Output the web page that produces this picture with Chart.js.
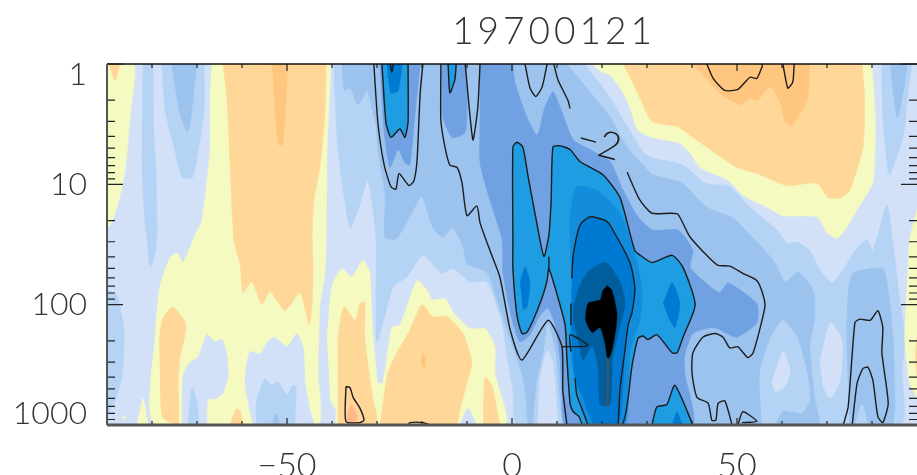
<!DOCTYPE html>
<html><head><meta charset="utf-8">
<style>html,body{margin:0;padding:0;background:#fff}canvas{display:block}</style>
<script src="https://cdn.jsdelivr.net/npm/chart.js@4/dist/chart.umd.min.js"></script>
</head><body><canvas id="c" width="917" height="475"></canvas>
<script>
// All outlines: [latitude, log10(pressure)]
const baseField=[[-90,0],[90,0],[90,3],[-90,3]];
const yellowLeft=[[-90,0],[-84,0],[-84.7,.38],[-86,.88],[-87.6,1.17],[-89.3,1.34],[-90,1.35]];
const yellowMain=[[-66.7,0],[-67.1,.3],[-67.1,.71],[-68.9,1.3],[-70.4,1.42],[-73.1,1.65],[-74.4,1.57],[-76,1.61],[-78.2,1.84],[-79.3,2.25],[-79.3,3],[-43.3,3],[-43.1,2.57],[-42.7,2.02],[-41.6,1.74],[-41.3,1.46],[-41.1,.71],[-40.2,0]];
const yellowPeak=[[-83.3,3],[-82,2.78],[-80.9,3]];
const yellowSpot=[[-86.7,2.93],[-86,2.93],[-86.2,2.96]];
const orangeMain=[[-64.2,0],[-63.3,.3],[-62.7,.8],[-61.8,1.46],[-60.4,1.67],[-59.8,1.9],[-57.8,1.81],[-55.6,2],[-53.8,1.89],[-50.4,2.05],[-47.1,1.9],[-45.1,2.17],[-44.4,1.98],[-44.2,1.7],[-44.4,1.42],[-44,1.13],[-42.7,.86],[-41.6,.44],[-41.3,0]];
const orangeDarkLeft=[[-53.3,0],[-52,.67],[-50.9,.67],[-49.8,0]];
const orangeCorner=[[-89.6,0],[-88.2,.14],[-87.1,0]];
const orangeLobeLeft=[[-78.4,2.31],[-77.6,2.11],[-75.3,2.02],[-72.4,2.17],[-73.8,2.44],[-74.2,2.67],[-74.2,3],[-77.6,2.94],[-78.2,2.67]];
const orangeBottomPeak=[[-62.7,3],[-61.3,2.87],[-60.4,2.88],[-59.8,3]];
const paleLobeA=[[-73.3,3],[-73.1,2.59],[-71.6,2.48],[-69.8,2.44],[-67.8,2.25],[-66,2.31],[-64.4,2.29],[-63.3,2.44],[-63.1,2.6],[-64.2,2.73],[-65.6,2.78],[-67.6,2.79],[-67.8,3]];
const paleLobeB=[[-57.6,3],[-59.3,2.67],[-59.1,2.53],[-58.2,2.39],[-56,2.41],[-54.4,2.31],[-52.7,2.27],[-50,2.35],[-47.8,2.24],[-46.4,2.36],[-46,2.64],[-44.9,2.88],[-43.8,3]];
const blueLobeA=[[-72,3],[-71.1,2.69],[-70,2.81],[-69.6,3]];
const blueLobeB=[[-56.7,3],[-56.9,2.86],[-56.4,2.75],[-54.9,2.62],[-53.3,2.67],[-52,2.64],[-50,2.75],[-48.7,2.67],[-48,2.68],[-48.2,3]];
const midSpotLobeB=[[-53.3,3],[-52.4,2.9],[-51.6,3]];
const blueColumnA=[[-82,0],[-82.2,.84],[-81.6,1.3],[-81.1,1.46],[-80.4,1.69],[-79.3,1.57],[-78.9,1.42],[-79.1,.88],[-79.6,.57],[-79.8,0]];
const blueColumnB=[[-77.8,0],[-77.1,.38],[-75.3,.66],[-73.3,.94],[-70.9,.94],[-68.4,.38],[-68.4,0]];
const midColumnB=[[-75.6,0],[-73.8,.41],[-72.2,.56],[-71.6,.52],[-70,0]];
const blueEdgeLeft=[[-90,1.88],[-87.8,1.92],[-86.2,2.23],[-86.7,2.61],[-88.2,2.8],[-90,2.92]];
const yellowRight=[[17.8,0],[20.2,.07],[21.8,.09],[24.7,.24],[26.2,.36],[28,.55],[31.3,.61],[37.3,.66],[39.6,.74],[41.8,.86],[47.8,.96],[51.3,1.09],[56.7,1.19],[60.2,1.26],[67.8,1.27],[70,1.4],[72.2,1.45],[74,1.38],[76.7,1.21],[80.2,.98],[80.7,.44],[80,0]];
const orangeRight=[[24.7,0],[26.9,.16],[28.9,.32],[31.1,.48],[36.7,.52],[40.2,.61],[44,.71],[50,.86],[54.4,.91],[61.1,1.01],[67.8,.99],[70.2,1.11],[73.3,1.11],[75.1,1.05],[78,.69],[78.4,.3],[77.8,0]];
const orangeDarkRight=[[40.2,0],[46.2,.24],[50.7,.34],[52.9,.28],[54.7,.3],[57.3,.19],[59.6,.32],[60.7,.48],[62.2,.51],[65.6,.3],[66.2,0]];
const blueTopRight=[[82.2,0],[82.4,.44],[83.6,.91],[84,.92],[86.9,.61],[88,.24],[88.9,0]];
const midTopRight=[[84,0],[85.6,.45],[87.3,.16],[87.8,0]];
const yellowEdgeRight=[[90,1.21],[88.4,1.46],[88,1.74],[87.3,2.29],[88.4,2.65],[90,2.77]];
const orangeEdgeRight=[[90,2.27],[89.6,2.44],[90,2.6]];
const blueMain=[[-39.6,0],[-38.7,.71],[-36,1.36],[-33.8,1.17],[-32,.96],[-30.2,1.46],[-30,2.31],[-26.4,1.85],[-23.3,1.77],[-19.8,1.59],[-15.6,1.74],[-13.1,1.7],[-9.3,1.81],[-5.6,1.81],[-2.2,2.15],[-1.1,2.43],[.2,2.71],[1.3,3],[86.2,3],[86.7,2.57],[87.3,2.27],[86.2,1.96],[84.7,1.51],[83.3,1.17],[80.2,1.55],[78.9,1.46],[76.2,1.55],[73.6,1.71],[71.1,1.82],[68.4,1.71],[66.2,1.55],[63.3,1.48],[61.1,1.49],[58.9,1.38],[52.9,1.19],[48.4,1.02],[42.9,.99],[38,.84],[31.3,.78],[29.1,.73],[25.6,.52],[21.8,.28],[16.2,0]];
const yellowCenter=[[-41.1,2.29],[-40,1.85],[-37.8,1.7],[-35.6,1.77],[-33.1,1.63],[-31.6,1.74],[-31.1,2.15],[-29.8,2.65],[-28.7,2.65],[-26.7,2.19],[-24.9,2.17],[-21.1,1.8],[-18.7,1.89],[-17.8,1.96],[-14.9,1.95],[-13.1,2.06],[-9.3,2.2],[-6,2.2],[-3.8,2.35],[-3.8,2.57],[-1.6,3],[-38.9,3],[-39.1,2.88],[-40.4,2.79]];
const orangeCenterA=[[-38.7,2.29],[-37.8,2.06],[-37.1,2.02],[-34.9,2.13],[-33.8,1.99],[-32.7,1.98],[-32.7,2.29],[-30.9,2.79],[-30,3],[-38.7,3]];
const orangeCenterB=[[-29.3,3],[-27.6,2.57],[-25.6,2.4],[-22.7,2.21],[-20,2],[-17.6,2.1],[-14.4,2.1],[-10.9,2.24],[-8.9,2.48],[-10,2.65],[-11.6,2.88],[-12.2,3]];
const orangeCenterC=[[-6.4,3],[-6,2.6],[-4.4,2.68],[-2.7,3]];
const orangeHotSpot=[[-36.7,3],[-36.4,2.88],[-35.6,2.83],[-34.4,2.93],[-34.9,3]];
const orangeDarkSpot=[[-20.2,2.48],[-19.8,2.4],[-19.1,2.48],[-19.6,2.54]];
const paleTriangle=[[-11.6,3],[-9.8,2.86],[-7.8,3]];
const midMain=[[-37.8,0],[-37.3,.22],[-36,.2],[-34.2,.34],[-32.2,.22],[-31.1,.37],[-30.2,.51],[-29.8,.71],[-28.2,1.09],[-28.2,1.44],[-25.6,1.45],[-20.4,1.11],[-19.8,1.11],[-17.6,1.36],[-15.3,1.44],[-13.3,1.36],[-10.9,1.51],[-10,1.66],[-5.6,1.73],[-3.3,1.96],[-.4,2.29],[2.2,2.57],[3.3,2.82],[4,3],[68,3],[67.3,2.79],[66.2,2.35],[67.3,2.1],[66.9,1.88],[63.6,1.73],[60.7,1.81],[58.4,1.65],[56.2,1.55],[52.9,1.42],[49.1,1.28],[43.3,1.19],[37.8,.99],[31.3,.92],[29.1,.84],[25.6,.69],[21.8,.44],[16.2,.18],[12.2,0]];
const pocketBlue=[[4.7,3],[5.6,2.63],[6.9,2.43],[8,2.17],[9.6,2.39],[10.4,2.73],[11.1,3]];
const pocketPale=[[5.8,3],[6.2,2.63],[7.8,2.38],[9.1,2.48],[10.2,3]];
const pocketBlueRight=[[55.6,3],[55.1,2.57],[57.3,2.29],[60.2,2.13],[63.3,2.27],[65.6,2.57],[66.2,2.79],[64.4,2.9],[60.2,2.88],[58.4,3]];
const palePocketA=[[57.8,2.65],[60.2,2.39],[61.8,2.54],[60.7,2.68],[58.4,2.73]];
const palePocketB=[[68.4,2.48],[70.7,2.15],[73.3,2.29],[72.9,2.63],[70.7,2.78],[69.1,2.68]];
const midRight=[[75.1,3],[74.4,2.29],[74.7,1.9],[75.8,1.74],[82.4,1.7],[83.6,1.88],[84.7,2.29],[85.1,2.85],[84.7,3]];
const bluePocketRight=[[76.2,3],[77.8,2.83],[79.1,3]];
const strongMain=[[-7.1,0],[-7.1,.44],[-7.1,.82],[-5.6,1.05],[-2.2,1.46],[-2,1.74],[.2,2.15],[1.8,2.31],[4,2.25],[6.2,2.09],[8,2.03],[9.6,2.17],[10.7,2.46],[11.1,2.75],[12,3],[40,3],[38.4,2.57],[38.4,2.42],[40.2,2.24],[44.7,2.19],[47.8,2.24],[50,2.27],[54.4,2.15],[54.4,1.99],[48,1.82],[46.2,1.9],[44,1.85],[39.6,1.69],[40.2,1.55],[36.9,1.38],[31.3,1.38],[28,1.27],[24.7,1.05],[21.8,.81],[17.3,.71],[13.6,.63],[10.7,.36],[9.1,.23],[7.3,.36],[5.6,.59],[3.3,.44],[.7,.16],[.2,0]];
const strongLobeA=[[-29.3,0],[-28.4,.57],[-27.1,.86],[-25.3,.71],[-23.8,.82],[-22.7,.84],[-21.6,.44],[-20.4,0]];
const strongLobeB=[[-15.6,0],[-15.3,.44],[-13.3,.61],[-10.4,.57],[-10,.3],[-10.2,0]];
const cyanTopA=[[-28.9,0],[-28,.49],[-26.9,.61],[-24.9,.54],[-23.8,.61],[-23.1,.48],[-23.1,0]];
const deepTopA=[[-27.8,0],[-26.9,.24],[-25.3,.22],[-24.4,0]];
const darkTopA=[[-27.1,0],[-26.7,.07],[-26.4,0]];
const cyanTopB=[[-14.2,0],[-13.8,.24],[-12.7,.13],[-12.4,0]];
const cyanMain=[[.2,1.46],[.2,.69],[1.1,.65],[2.4,.69],[3.6,.94],[5.6,1.34],[7.1,1.6],[8.2,1.42],[8.7,1.13],[9.1,.69],[10.7,.68],[12.9,.71],[15.1,.81],[20.2,.92],[24,1.11],[27.3,1.55],[28.9,1.6],[31.1,1.65],[35.6,1.59],[38,1.69],[40.7,2],[38,2.27],[36.7,2.4],[35.6,2.4],[32.2,2.25],[30.2,2.29],[29.1,2.26],[28,2.28],[26.7,2.5],[24.4,3],[15.8,3],[14.9,2.93],[13.6,2.89],[12.9,2.82],[12.2,2.44],[11.8,2.17],[10.2,1.94],[8.2,1.7],[7.8,1.8],[6.7,1.94],[4.7,2.13],[3.3,2.23],[2.2,2.24],[1.1,2.09],[.2,1.7],[.2,1.46]];
const cyanBottom=[[31.1,3],[32.2,2.85],[34.4,2.83],[36.2,2.67],[40.2,3]];
const deepBottom=[[35.6,3],[36.7,2.89],[37.8,3]];
const skyCore=[[13.3,1.8],[12.9,1.27],[14.4,1.02],[18.9,1.05],[24,1.24],[27.1,1.55],[28.9,1.88],[28.4,2.13],[26.2,2.38],[25.1,3],[17.3,3],[14,2.63],[12.9,2.29]];
const deepCore=[[13.3,1.78],[13.6,1.59],[15.1,1.34],[17.3,1.27],[20.7,1.3],[21.8,1.34],[26.2,1.65],[27.3,1.86],[26.7,2.06],[25.8,2.17],[25.1,2.38],[23.6,3],[18.4,3],[15.6,2.75],[14,2.61],[13.1,2.17]];
const darkCore=[[13.6,2.03],[15.1,1.84],[17.3,1.71],[20.9,1.65],[24,1.81],[25.1,1.99],[23.6,2.24],[22.4,2.43],[21.8,2.83],[19.6,2.83],[19.1,2.5],[17.8,2.34],[15.8,2.46],[14.7,2.29],[13.6,2.13]];
const blackCore=[[21.1,1.84],[22.2,1.88],[23.3,2.07],[23.1,2.19],[22.2,2.38],[21.3,2.46],[20.7,2.32],[19.6,2.19],[17.8,2.23],[16.4,2.13],[16.9,1.99],[19.6,1.96],[20.2,1.88]];
const deepLobeLeft=[[1.8,1.82],[2.9,1.69],[4,1.82],[3.3,2.02],[2.4,2.04]];
const deepLobeRight=[[33.6,1.99],[35.6,1.82],[37.3,1.99],[36.2,2.19],[34.7,2.1]];

// Contour lines
const contourTopLeft=[[-30.7,0],[-29.8,.49],[-28.4,.84],[-26.9,1.02],[-25.8,1.04],[-25.1,.91],[-22.9,1.01],[-21.8,.97],[-21.1,.8],[-20.4,.24],[-19.8,0]];
const contourLong=[[-15.8,0],[-15.8,.47],[-14.9,.69],[-13.8,.84],[-12.2,.86],[-11.1,.99],[-10,1.26],[-7.8,1.18],[-7.1,1.32],[-4.9,1.55],[-2.7,1.77],[-.4,2.21],[2.2,2.46],[8,2.13],[11.1,2.35],[11.3,2.71],[12.2,3]];
const contourV=[[-10.4,0],[-8.7,.63],[-7.6,.36],[-7.1,0]];
const contourCap=[[2.9,0],[4,.2],[5.3,.27],[6.7,.19],[7.8,0]];
const contourLabelA=[[9.3,0],[10.2,.13],[12.4,.3],[12.9,.37]];
const contourLabelB=[[25.6,.9],[28.4,1.13],[31.1,1.24],[35.1,1.24],[36.9,1.25],[39.6,1.44],[45.6,1.67],[48.4,1.68],[51.3,1.74],[54.4,1.8],[55.8,1.92],[56.2,2.02],[53.6,2.4],[52.4,2.44],[50.2,2.35],[48.4,2.36],[46.9,2.27],[45.1,2.24],[42.4,2.27],[40.2,2.4],[40,2.57],[41.1,2.77],[43.6,2.82],[44.4,2.96],[45.3,2.96],[45.8,2.82],[47.3,2.8],[48.9,3]];
const contourSmallTri=[[50.2,3],[51.3,2.89],[54.4,2.97],[51.1,2.98]];
const contourStub=[[8.2,1.6],[8.2,1.7]];
const contourDeep=[[13.3,1.78],[13.6,1.59],[15.1,1.34],[17.3,1.27],[20.7,1.3],[21.8,1.34],[26.2,1.65],[27.3,1.86],[26.7,2.06],[25.8,2.17],[25.1,2.38],[24,2.7],[23.6,3]];
const contourDeepFrag=[[13.1,1.99],[13.1,2.17]];
const contourDeepLow=[[14,2.61],[14.4,2.75],[15.8,2.89],[16.9,3]];
const contourArrow=[[13.1,2.39],[12.9,2.25],[16.9,2.34],[11.1,2.35]];
const contourCoreLine=[[21.3,2.44],[21.3,2.85]];
const contourRightBlob=[[73.6,3],[74.7,2.85],[76.2,2.15],[77.3,2.12],[79.6,2.13],[81.3,2.05],[82.4,2.19],[82.2,2.4],[83.6,2.82],[82.4,2.98],[81.3,2.93],[80.2,2.63],[79.1,2.52],[78,2.53],[76.7,2.65],[75.6,3]];
const contourHotTri=[[-36.9,2.68],[-36,2.69],[-35.3,2.77],[-33.8,2.86],[-32.9,2.96],[-33.8,2.98],[-36.9,2.97],[-36.9,2.68]];
const contourBottomSmall=[[-23.1,3],[-22.7,2.98],[-19.8,2.98],[-18.2,3]];
const contourTopRightA=[[43.3,0],[44.7,.12],[47.3,.22],[50.2,.21],[52.9,.11],[54.4,.12],[55.6,.02],[55.6,0]];
const contourTopRightB=[[60.2,0],[61.3,.2],[62.4,.15],[62.7,0]];

const xTickLabels=[-50,0,50];
const yTickLabels=[1,10,100,1000];
const xMinorTicks=[-80,-70,-60,-40,-30,-20,-10,10,20,30,40,60,70,80];
const yMinorTicks=[2,3,4,5,6,7,8,9,20,30,40,50,60,70,80,90,200,300,400,500,600,700,800,900];
const titleText="19700121";
const contourLabel="\u22122";
const contourLabelAt=[19.3,.66];

const PALE="#D2E1F8",BLUE="#B5D4F5",MID="#9CC3EE",STRONG="#70A1E2",CYAN="#1E9DE2",SKY="#128CDB",DEEP="#0079D2",DARK="#005E9E",YEL="#F5FAC1",ORA="#FFD899",ORD="#FFC680",HOT="#FFB98A";
const layers=[[baseField,PALE],[blueMain,BLUE],[yellowLeft,YEL],[yellowMain,YEL],[yellowPeak,YEL],[yellowSpot,YEL],[orangeMain,ORA],[orangeDarkLeft,ORD],[orangeCorner,ORA],[orangeLobeLeft,ORA],[orangeBottomPeak,ORA],[paleLobeA,PALE],[paleLobeB,PALE],[blueLobeA,BLUE],[blueLobeB,BLUE],[midSpotLobeB,MID],[blueColumnA,BLUE],[blueColumnB,BLUE],[midColumnB,MID],[blueEdgeLeft,BLUE],[yellowRight,YEL],[orangeRight,ORA],[orangeDarkRight,ORD],[blueTopRight,BLUE],[midTopRight,MID],[yellowEdgeRight,YEL],[orangeEdgeRight,ORA],[yellowCenter,YEL],[orangeCenterA,ORA],[orangeCenterB,ORA],[orangeCenterC,ORA],[orangeHotSpot,HOT],[orangeDarkSpot,ORD],[paleTriangle,PALE],[midMain,MID],[pocketBlue,BLUE],[pocketPale,PALE],[pocketBlueRight,BLUE],[palePocketA,PALE],[palePocketB,PALE],[midRight,MID],[bluePocketRight,BLUE],[strongMain,STRONG],[strongLobeA,STRONG],[strongLobeB,STRONG],[cyanTopA,CYAN],[deepTopA,DEEP],[darkTopA,DARK],[cyanTopB,CYAN],[cyanMain,CYAN],[cyanBottom,CYAN],[deepBottom,DEEP],[skyCore,SKY],[deepCore,DEEP],[deepLobeLeft,DEEP],[deepLobeRight,DEEP],[darkCore,DARK],[blackCore,"#000"]];
const lines=[contourTopLeft,cyanTopA,darkTopA,cyanTopB,contourLong,contourV,contourCap,contourLabelA,contourLabelB,contourSmallTri,cyanMain,contourStub,contourDeep,contourDeepFrag,contourDeepLow,contourArrow,cyanBottom,contourRightBlob,contourHotTri,contourBottomSmall,contourTopRightA,contourTopRightB];

const pts=a=>a.map(p=>({x:p[0],y:Math.pow(10,p[1])}));
const fills=layers.map((l,i)=>({data:pts(l[0]),showLine:true,fill:'shape',backgroundColor:l[1],borderColor:l[1],borderWidth:0.6,pointRadius:0,tension:i?0.2:0}));
const strokes=lines.map(a=>({data:pts(a),showLine:true,fill:false,borderColor:"#1c1c1c",borderWidth:1.4,pointRadius:0,tension:0.2}));
strokes.push({data:pts(contourCoreLine),showLine:true,fill:false,borderColor:"#555",borderWidth:1,pointRadius:0});
const datasets=fills.concat(strokes).reverse();

const FONT='Lato, "Open Sans", sans-serif';
const frame={id:'frame',afterDatasetsDraw(ch){
  const c=ch.ctx,a=ch.chartArea,xs=ch.scales.x,ys=ch.scales.y;
  c.save();
  c.strokeStyle="#222";c.lineWidth=1.2;c.beginPath();
  const xt=(v,l)=>{const p=xs.getPixelForValue(v);c.moveTo(p,a.top);c.lineTo(p,a.top+l);c.moveTo(p,a.bottom);c.lineTo(p,a.bottom-l);};
  const yt=(v,l)=>{const p=ys.getPixelForValue(v);c.moveTo(a.left,p);c.lineTo(a.left+l,p);c.moveTo(a.right,p);c.lineTo(a.right-l,p);};
  xMinorTicks.forEach(v=>xt(v,4));xTickLabels.forEach(v=>xt(v,7));
  yMinorTicks.forEach(v=>yt(v,8));yTickLabels.forEach(v=>yt(v,16));
  c.stroke();
  c.strokeStyle="#111";c.lineWidth=1.5;c.beginPath();c.moveTo(a.left,a.top);c.lineTo(a.right,a.top);c.stroke();
  c.strokeStyle="#555";c.lineWidth=2;c.beginPath();c.moveTo(a.left,a.top);c.lineTo(a.left,a.bottom);c.stroke();
  c.lineWidth=3;c.beginPath();c.moveTo(a.left,a.bottom);c.lineTo(a.right,a.bottom);c.stroke();
  // contour label
  c.translate(xs.getPixelForValue(contourLabelAt[0]),ys.getPixelForValue(Math.pow(10,contourLabelAt[1])));
  c.rotate(15*Math.PI/180);c.fillStyle="#1c1c1c";c.font='300 38px '+FONT;c.textAlign='center';c.textBaseline='middle';
  c.fillText(contourLabel,0,0);
  c.restore();
  // title
  c.save();c.fillStyle="#333";c.font='300 37px '+FONT;c.textAlign='center';c.textBaseline='middle';
  if('letterSpacing' in c)c.letterSpacing='4px';
  c.fillText(titleText,554,32);c.restore();
}};

new Chart(document.getElementById('c'),{type:'scatter',data:{datasets},plugins:[frame],options:{
  responsive:false,animation:false,events:[],
  layout:{padding:{top:64,left:0,right:0,bottom:0}},
  plugins:{legend:{display:false},tooltip:{enabled:false},title:{display:false}},
  scales:{
    x:{type:'linear',min:-90,max:90,grid:{display:false},border:{display:false},
      afterBuildTicks(s){s.ticks=xTickLabels.map(v=>({value:v}));},
      afterFit(s){s.height=50;},
      ticks:{autoSkip:false,maxRotation:0,padding:16,color:"#333",font:{family:FONT,size:34,weight:'300',lineHeight:1},
        callback:v=>String(v).replace('-','\u2212')}},
    y:{type:'logarithmic',reverse:true,min:1,max:1000,grid:{display:false},border:{display:false},
      afterBuildTicks(s){s.ticks=yTickLabels.map(v=>({value:v}));},
      afterFit(s){s.width=107;},
      ticks:{autoSkip:false,padding:12,color:"#333",font:{family:FONT,size:32,weight:'300',lineHeight:'22px'},
        callback:v=>v===1?['','1']:(v===1000?['1000','']:String(v))}}
  }}});
</script></body></html>
